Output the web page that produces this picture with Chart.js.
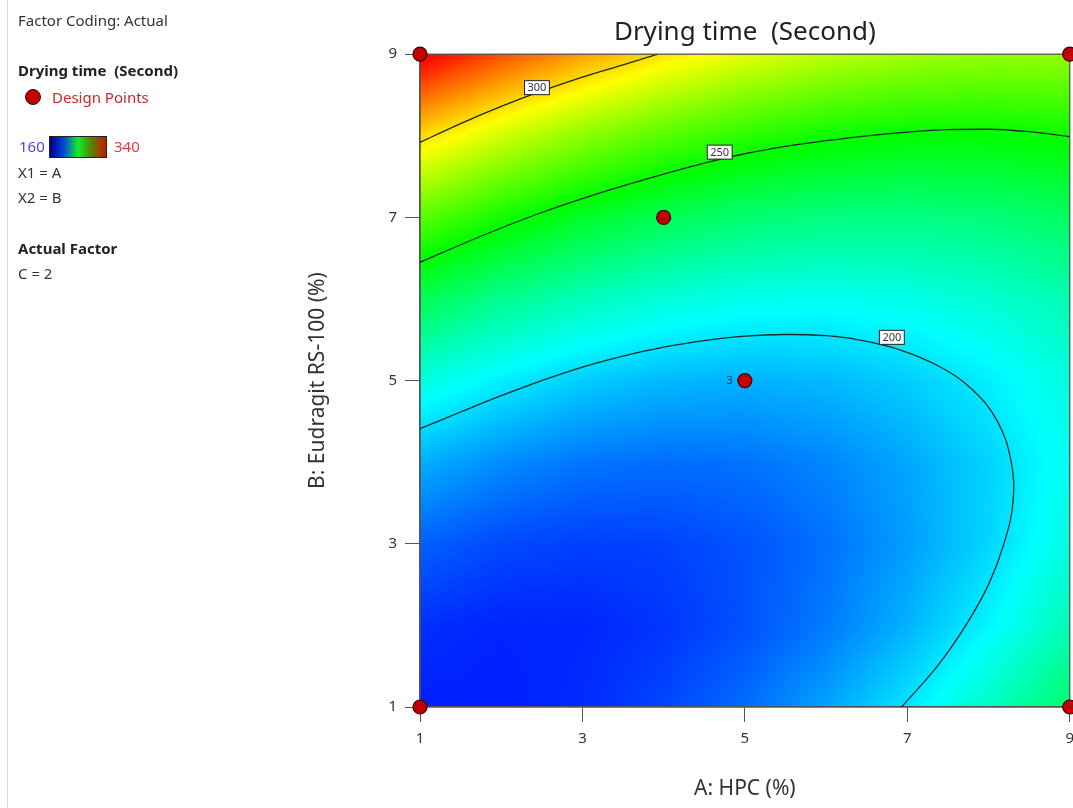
<!DOCTYPE html>
<html>
<head>
<meta charset="utf-8">
<script src="https://cdn.jsdelivr.net/npm/chart.js@4.4.1/dist/chart.umd.min.js"></script>
<style>
  body { margin: 0; overflow: hidden; background: #fff; font-family: 'Noto Sans', sans-serif; }
  #wrap { position: relative; width: 1073px; height: 808px; overflow: hidden; }
  #chart { position: absolute; left: 0; top: 0; }
  .side { position: absolute; font-size: 15px; line-height: 18px; color: #333; white-space: pre; }
  .bold { font-weight: bold; color: #222; }
  #rule { position: absolute; left: 7px; top: 0; width: 1px; height: 808px; background: #d8d8d8; }
  #dot { position: absolute; left: 25px; top: 89px; width: 14px; height: 14px; border-radius: 50%;
         background: #c00000; border: 1px solid #400000; }
  #bar { position: absolute; left: 49px; top: 136px; width: 56px; height: 20px; border: 1px solid #222;
         background: linear-gradient(to right, #00008c 0%, #0048d8 25%, #10f028 50%, #508a00 72%, #c41800 100%); }
</style>
</head>
<body>
<div id="wrap">
  <canvas id="chart" width="1082" height="808"></canvas>
  <div id="rule"></div>
  <div class="side" style="left:18px;top:11px">Factor Coding: Actual</div>
  <div class="side bold" style="left:18px;top:61px">Drying time  (Second)</div>
  <div id="dot"></div>
  <div class="side" style="left:52px;top:88px;color:#d02828">Design Points</div>
  <div class="side" style="left:19px;top:137px;color:#4848f0">160</div>
  <div id="bar"></div>
  <div class="side" style="left:114px;top:137px;color:#e03c3c">340</div>
  <div class="side" style="left:18px;top:163px">X1 = A</div>
  <div class="side" style="left:18px;top:188px">X2 = B</div>
  <div class="side bold" style="left:18px;top:239px">Actual Factor</div>
  <div class="side" style="left:18px;top:264px">C = 2</div>
</div>
<script>
// factor levels of the response grid
const hpcLevels = [1, 2, 3, 4, 5, 6, 7, 8, 9];
const eudragitLevels = [1, 2, 3, 4, 5, 6, 7, 8, 9];

const timeB1 = [165.2, 165.2, 167.5, 172.2, 179.3, 188.8, 200.7, 215.0, 231.6];
const timeB2 = [168.4, 166.3, 166.6, 169.2, 174.2, 181.6, 191.5, 203.7, 218.2];
const timeB3 = [177.1, 172.9, 171.1, 171.6, 174.6, 179.9, 187.7, 197.8, 210.3];
const timeB4 = [191.1, 184.9, 181.0, 179.5, 180.3, 183.6, 189.3, 197.3, 207.7];
const timeB5 = [210.6, 202.3, 196.3, 192.7, 191.5, 192.7, 196.3, 202.3, 210.6];
const timeB6 = [235.5, 225.1, 217.0, 211.4, 208.1, 207.2, 208.7, 212.6, 218.9];
const timeB7 = [265.8, 253.3, 243.2, 235.4, 230.1, 227.1, 226.6, 228.4, 232.6];
const timeB8 = [301.5, 286.9, 274.7, 264.9, 257.5, 252.5, 249.9, 249.6, 251.7];
const timeB9 = [342.6, 326.0, 311.7, 299.8, 290.4, 283.2, 278.5, 276.2, 276.3];

// contour lines (A, B pairs)
const contour300 = [[1, 7.92], [1.5, 8.15], [2, 8.36], [2.5, 8.55], [3, 8.72], [3.5, 8.87], [3.93, 9.0]];
const contour250 = [[1, 6.45], [1.5, 6.665], [2, 6.87], [2.5, 7.06], [3, 7.23], [3.5, 7.385], [4, 7.53],
  [4.5, 7.665], [5, 7.78], [5.5, 7.87], [6, 7.94], [6.5, 8.0], [7, 8.045], [7.5, 8.075], [8, 8.08],
  [8.5, 8.05], [9, 7.99]];
const contour200 = [[1, 4.41], [1.5, 4.615], [2, 4.815], [2.5, 5.0], [3, 5.165], [3.5, 5.3], [4, 5.41],
  [4.5, 5.49], [5, 5.545], [5.5, 5.565], [6, 5.55], [6.4, 5.5], [6.9, 5.38], [7.4, 5.17], [7.8, 4.89],
  [8.11, 4.5], [8.28, 4.0], [8.3, 3.5], [8.19, 3.0], [8.0, 2.5], [7.72, 2.0], [7.37, 1.5], [6.93, 1.0]];
const contourLevels = ['300', '250', '200'];
const contourLabelAt = [[2.44, 8.59], [4.69, 7.8], [6.81, 5.53]];

// design points
const designA = [1, 9, 1, 9, 5, 4];
const designB = [1, 1, 9, 9, 5, 7];
const replicates = [1, 1, 1, 1, 3, 1];

const timeGrid = [timeB1, timeB2, timeB3, timeB4, timeB5, timeB6, timeB7, timeB8, timeB9];

const colorStops = [
  [160, [0, 0, 255]],
  [205, [0, 255, 255]],
  [250, [0, 255, 0]],
  [295, [255, 255, 0]],
  [340, [255, 0, 0]],
];

function colorFor(v) {
  if (v <= colorStops[0][0]) return colorStops[0][1];
  for (let i = 1; i < colorStops.length; i++) {
    const [v1, c1] = colorStops[i];
    if (v <= v1) {
      const [v0, c0] = colorStops[i - 1];
      const t = (v - v0) / (v1 - v0);
      return [0, 1, 2].map((k) => c0[k] + (c1[k] - c0[k]) * t);
    }
  }
  return colorStops[colorStops.length - 1][1];
}

function cellIndex(levels, v) {
  let i = 0;
  while (i < levels.length - 2 && v > levels[i + 1]) i++;
  return i;
}

// value at any A, B from the four surrounding grid cells
function timeAt(a, b) {
  const i = cellIndex(hpcLevels, a);
  const j = cellIndex(eudragitLevels, b);
  const tx = Math.min(Math.max((a - hpcLevels[i]) / (hpcLevels[i + 1] - hpcLevels[i]), 0), 1);
  const ty = Math.min(Math.max((b - eudragitLevels[j]) / (eudragitLevels[j + 1] - eudragitLevels[j]), 0), 1);
  const z00 = timeGrid[j][i], z10 = timeGrid[j][i + 1];
  const z01 = timeGrid[j + 1][i], z11 = timeGrid[j + 1][i + 1];
  return z00 * (1 - tx) * (1 - ty) + z10 * tx * (1 - ty) + z01 * (1 - tx) * ty + z11 * tx * ty;
}

const surfacePlugin = {
  id: 'surface',
  beforeDraw(chart) {
    const { ctx, chartArea: area, scales } = chart;
    const w = Math.round(area.right - area.left);
    const h = Math.round(area.bottom - area.top);
    const off = document.createElement('canvas');
    off.width = w;
    off.height = h;
    const octx = off.getContext('2d');
    const img = octx.createImageData(w, h);
    for (let py = 0; py < h; py++) {
      const b = scales.y.getValueForPixel(area.top + py + 0.5);
      for (let px = 0; px < w; px++) {
        const a = scales.x.getValueForPixel(area.left + px + 0.5);
        const c = colorFor(timeAt(a, b));
        const k = (py * w + px) * 4;
        img.data[k] = c[0];
        img.data[k + 1] = c[1];
        img.data[k + 2] = c[2];
        img.data[k + 3] = 255;
      }
    }
    octx.putImageData(img, 0, 0);
    ctx.drawImage(off, area.left, area.top);
  },
  beforeDatasetsDraw(chart) {
    const { ctx, chartArea: area } = chart;
    ctx.save();
    ctx.strokeStyle = '#555';
    ctx.lineWidth = 1.3;
    ctx.strokeRect(area.left, area.top, area.right - area.left, area.bottom - area.top);
    ctx.restore();
  },
  afterDatasetsDraw(chart) {
    const { ctx, scales } = chart;
    ctx.save();
    ctx.font = '11px "Noto Sans"';
    ctx.textAlign = 'center';
    ctx.textBaseline = 'middle';
    contourLevels.forEach((label, i) => {
      const x = scales.x.getPixelForValue(contourLabelAt[i][0]);
      const y = scales.y.getPixelForValue(contourLabelAt[i][1]);
      const bw = ctx.measureText(label).width + 6;
      ctx.fillStyle = '#fff';
      ctx.fillRect(x - bw / 2, y - 7, bw, 14);
      ctx.strokeStyle = '#222';
      ctx.lineWidth = 1;
      ctx.strokeRect(x - bw / 2, y - 7, bw, 14);
      ctx.fillStyle = '#333';
      ctx.fillText(label, x, y + 0.5);
    });
    // replicate count next to the centre point
    ctx.font = '11px "Noto Sans"';
    ctx.fillStyle = '#234';
    ctx.textAlign = 'right';
    replicates.forEach((n, i) => {
      if (n < 2) return;
      const x = scales.x.getPixelForValue(designA[i]);
      const y = scales.y.getPixelForValue(designB[i]);
      ctx.fillText(String(n), x - 12, y);
    });
    ctx.restore();
  },
};

const toPoints = (pairs) => pairs.map(([x, y]) => ({ x, y }));

const contourStyle = {
  type: 'line',
  showLine: true,
  borderColor: '#1e2a2a',
  borderWidth: 1.3,
  pointRadius: 0,
  tension: 0.4,
  fill: false,
};

new Chart(document.getElementById('chart'), {
  type: 'scatter',
  data: {
    datasets: [
      {
        label: 'Design Points',
        data: designA.map((a, i) => ({ x: a, y: designB[i] })),
        pointRadius: 7,
        pointBackgroundColor: '#c20000',
        pointBorderColor: '#3c0000',
        pointBorderWidth: 1.2,
        clip: false,
      },
      { ...contourStyle, label: '300', data: toPoints(contour300), cubicInterpolationMode: 'monotone' },
      { ...contourStyle, label: '250', data: toPoints(contour250), cubicInterpolationMode: 'monotone' },
      { ...contourStyle, label: '200', data: toPoints(contour200) },
    ],
  },
  options: {
    responsive: false,
    animation: false,
    events: [],
    layout: { padding: { left: 300, top: 0, right: 0, bottom: 0 } },
    plugins: {
      legend: { display: false },
      tooltip: { enabled: false },
      title: {
        display: true,
        text: 'Drying time  (Second)',
        fullSize: false,
        color: '#222',
        font: { family: 'Noto Sans', size: 26, weight: 'normal' },
        padding: { top: 17, bottom: 6 },
      },
    },
    scales: {
      x: {
        type: 'linear',
        min: 1,
        max: 9,
        afterFit: (scale) => { scale.height = 101; },
        ticks: { stepSize: 2, color: '#333', font: { family: 'Noto Sans', size: 15 }, padding: 8 },
        grid: { drawOnChartArea: false, tickLength: 15, color: '#555' },
        border: { color: '#555', width: 1.3 },
        title: {
          display: true,
          text: 'A: HPC (%)',
          color: '#333',
          font: { family: 'Noto Sans', size: 21 },
          padding: { top: 0, bottom: 6 },
        },
      },
      y: {
        type: 'linear',
        min: 1,
        max: 9,
        afterFit: (scale) => { scale.width = 120; },
        ticks: { stepSize: 2, color: '#333', font: { family: 'Noto Sans', size: 15 }, padding: 8 },
        grid: { drawOnChartArea: false, tickLength: 15, color: '#555' },
        border: { color: '#555', width: 1.3 },
        title: {
          display: true,
          text: 'B: Eudragit RS-100 (%)',
          color: '#333',
          font: { family: 'Noto Sans', size: 21 },
          padding: { top: 5, bottom: 0 },
        },
      },
    },
  },
  plugins: [surfacePlugin],
});
</script>
</body>
</html>
